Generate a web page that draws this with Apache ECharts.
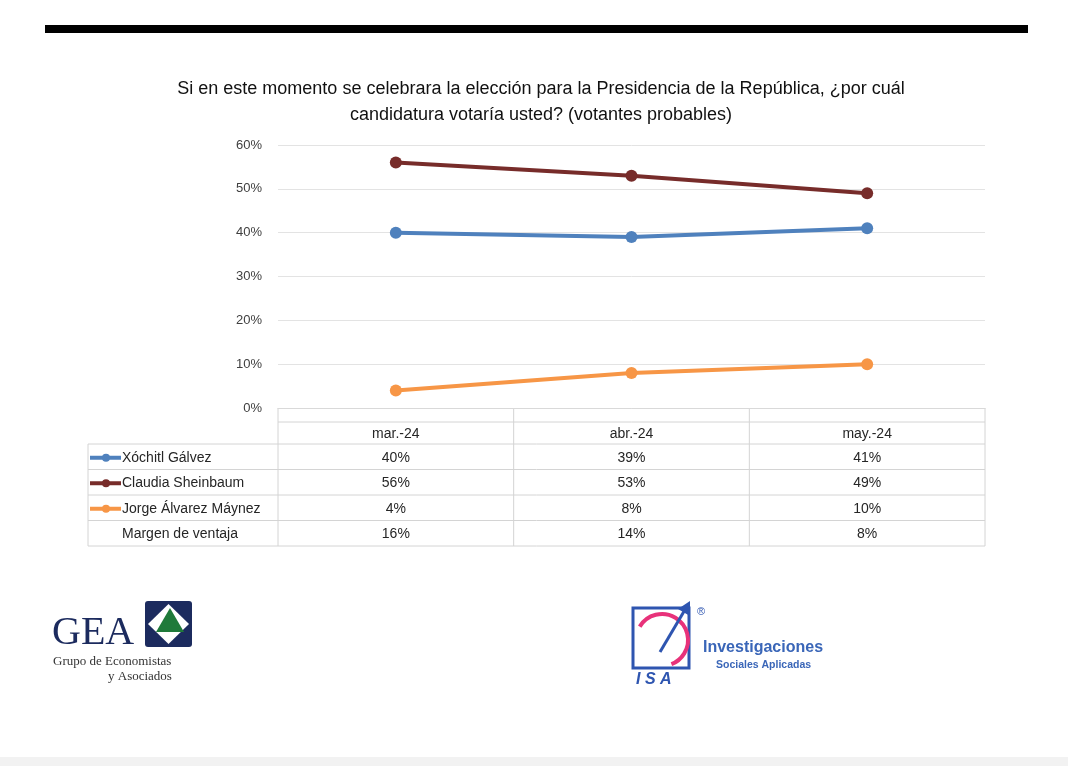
<!DOCTYPE html>
<html><head><meta charset="utf-8">
<script src="https://cdn.jsdelivr.net/npm/echarts@6/dist/echarts.min.js"></script>
<style>html,body{margin:0;padding:0;background:#fff}#c{width:1068px;height:776px}</style>
</head><body><div id="c"></div>
<script>
var categories = ['mar.-24', 'abr.-24', 'may.-24'];
var xochitl = [40, 39, 41];
var claudia = [56, 53, 49];
var jorge = [4, 8, 10];
var margen = [16, 14, 8];
var seriesNames = ['Xóchitl Gálvez', 'Claudia Sheinbaum', 'Jorge Álvarez Máynez'];
var marginLabel = 'Margen de ventaja';
var yTicks = [0, 10, 20, 30, 40, 50, 60];
var colors = ['#4f81bd', '#772c2a', '#f79646'];
var titleText = 'Si en este momento se celebrara la elección para la Presidencia de la República, ¿por cuál\ncandidatura votaría usted? (votantes probables)';

var chart = echarts.init(document.getElementById('c'), null, {renderer: 'canvas'});
var FONT = 'Liberation Sans';
function mkSeries(name, data, color) {
  return {
    name: name, type: 'line', data: data,
    symbol: 'circle', symbolSize: 12,
    lineStyle: {width: 4, color: color},
    itemStyle: {color: color},
    emphasis: {disabled: true}, animation: false
  };
}
chart.setOption({
  animation: false,
  backgroundColor: '#fff',
  title: {
    text: titleText, left: 536, top: 71, textAlign: 'center',
    textStyle: {fontFamily: FONT, fontSize: 18, fontWeight: 'normal', color: '#111', lineHeight: 26, align: 'center'}
  },
  grid: {left: 278, right: 83, top: 145, bottom: 368, containLabel: false},
  xAxis: {
    type: 'category', data: categories, boundaryGap: true,
    axisLine: {show: true, lineStyle: {color: '#d9d9d9', width: 1}},
    axisTick: {show: false}, axisLabel: {show: false}
  },
  yAxis: {
    type: 'value', min: yTicks[0], max: yTicks[yTicks.length - 1], interval: 10,
    axisLine: {show: false}, axisTick: {show: false},
    axisLabel: {formatter: '{value}%', fontFamily: FONT, fontSize: 13, color: '#404040', margin: 16},
    splitLine: {lineStyle: {color: '#e3e3e3', width: 1}}
  },
  series: [
    mkSeries(seriesNames[0], xochitl, colors[0]),
    mkSeries(seriesNames[1], claudia, colors[1]),
    mkSeries(seriesNames[2], jorge, colors[2])
  ]
});

// ---- data table built from category axis positions ----
var g = [];
var lineC = '#d4d4d4';
var axisY = chart.convertToPixel({yAxisIndex: 0}, 0);
var cx = categories.map(function (c, i) { return chart.convertToPixel({xAxisIndex: 0}, i); });
var band = cx.length > 1 ? cx[1] - cx[0] : 200;
var colEdges = [cx[0] - band / 2].concat(cx.map(function (x) { return x + band / 2; }));
var rowTop = axisY + 14;
var rowH = [22, 25.5, 25.5, 25.5, 25.5];
var rowY = [rowTop];
rowH.forEach(function (h) { rowY.push(rowY[rowY.length - 1] + h); });
var labelLeft = 88;
function hline(x1, x2, y) { g.push({type: 'line', shape: {x1: x1, y1: y, x2: x2, y2: y}, style: {stroke: lineC, lineWidth: 1}, silent: true}); }
function vline(x, y1, y2) { g.push({type: 'line', shape: {x1: x, y1: y1, x2: x, y2: y2}, style: {stroke: lineC, lineWidth: 1}, silent: true}); }
function txt(x, y, s, align) { g.push({type: 'text', x: x, y: y, style: {text: s, font: '14px "' + FONT + '"', fill: '#262626', align: align || 'center', verticalAlign: 'middle'}, silent: true}); }
hline(colEdges[0], colEdges[colEdges.length - 1], rowY[0]);
for (var r = 1; r < rowY.length; r++) hline(labelLeft, colEdges[colEdges.length - 1], rowY[r]);
colEdges.forEach(function (x) { vline(x, axisY, rowY[rowY.length - 1]); });
vline(labelLeft, rowY[1], rowY[rowY.length - 1]);
categories.forEach(function (c, i) { txt(cx[i], (rowY[0] + rowY[1]) / 2 + 1, c); });
var rows = [xochitl, claudia, jorge, margen];
var rowNames = seriesNames.concat([marginLabel]);
rows.forEach(function (vals, ri) {
  var yc = (rowY[ri + 1] + rowY[ri + 2]) / 2 + 1;
  if (ri < 3) {
    g.push({type: 'line', shape: {x1: labelLeft + 2, y1: yc, x2: labelLeft + 33, y2: yc}, style: {stroke: colors[ri], lineWidth: 4}, silent: true});
    g.push({type: 'circle', shape: {cx: labelLeft + 18, cy: yc, r: 4}, style: {fill: colors[ri]}, silent: true});
  }
  txt(labelLeft + 34, yc, rowNames[ri], 'left');
  vals.forEach(function (v, i) { txt(cx[i], yc, v + '%'); });
});

// ---- page decorations ----
g.push({type: 'rect', shape: {x: 45, y: 25, width: 983, height: 8}, style: {fill: '#000'}, silent: true});
g.push({type: 'rect', shape: {x: 0, y: 757, width: 1068, height: 9}, style: {fill: '#f2f2f2'}, silent: true});
// GEA logo
g.push({type: 'text', x: 52, y: 633, style: {text: 'GEA', font: '40px "Liberation Serif"', fill: '#1c2b5e', verticalAlign: 'middle'}, silent: true});
g.push({type: 'rect', shape: {x: 145, y: 601, width: 47, height: 46, r: 3}, style: {fill: '#1c2b5e'}, silent: true});
g.push({type: 'polygon', shape: {points: [[168.5, 604], [189, 624], [168.5, 644], [148, 624]]}, style: {fill: '#fff'}, silent: true});
g.push({type: 'polygon', shape: {points: [[170, 608], [184, 632], [156, 632]]}, style: {fill: '#1f7a3a'}, silent: true});
g.push({type: 'text', x: 53, y: 662, style: {text: 'Grupo de Economistas', font: '13px "Liberation Serif"', fill: '#333', verticalAlign: 'middle'}, silent: true});
g.push({type: 'text', x: 108, y: 677, style: {text: 'y Asociados', font: '13px "Liberation Serif"', fill: '#333', verticalAlign: 'middle'}, silent: true});
// ISA logo
g.push({type: 'rect', shape: {x: 633, y: 608, width: 56, height: 60}, style: {fill: 'none', stroke: '#2e55b0', lineWidth: 3}, silent: true});
g.push({type: 'arc', shape: {cx: 662, cy: 640, r: 26, startAngle: -2.6, endAngle: 1.2}, style: {stroke: '#e8327a', lineWidth: 4, fill: 'none'}, silent: true});
g.push({type: 'line', shape: {x1: 660, y1: 652, x2: 686, y2: 608}, style: {stroke: '#2e55b0', lineWidth: 3}, silent: true});
g.push({type: 'polygon', shape: {points: [[690, 601], [690, 616], [678, 609]]}, style: {fill: '#2e55b0'}, silent: true});
g.push({type: 'text', x: 636, y: 680, style: {text: 'I S A', font: 'italic bold 16px "Liberation Sans"', fill: '#2e55b0', verticalAlign: 'middle'}, silent: true});
g.push({type: 'text', x: 697, y: 612, style: {text: '®', font: '11px "Liberation Sans"', fill: '#2e55b0', verticalAlign: 'middle'}, silent: true});
g.push({type: 'text', x: 703, y: 648, style: {text: 'Investigaciones', font: 'bold 16px "Liberation Sans"', fill: '#3a66b8', verticalAlign: 'middle'}, silent: true});
g.push({type: 'text', x: 716, y: 665, style: {text: 'Sociales Aplicadas', font: 'bold 10.5px "Liberation Sans"', fill: '#3a66b8', verticalAlign: 'middle'}, silent: true});

chart.setOption({graphic: {elements: g}});
</script></body></html>
